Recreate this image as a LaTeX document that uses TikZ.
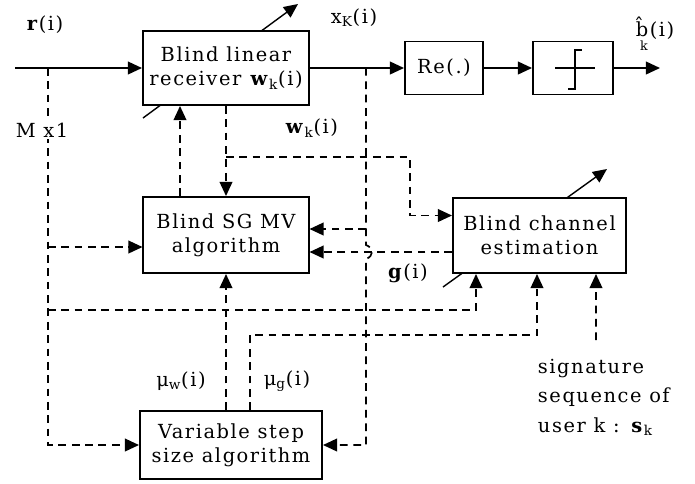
\documentclass[tikz,border=0pt]{standalone}
\usepackage{fontspec}
\setmainfont{DejaVu Serif}[LetterSpace=8]
\usetikzlibrary{arrows.meta,calc}

\begin{document}
\begin{tikzpicture}[x=0.025cm, y=-0.025cm,
    font=\fontsize{13.8}{17}\selectfont,
    blk/.style={rectangle, draw, line width=1.4pt, fill=white, align=center, inner sep=1pt},
    arrow/.style={-{Triangle[length=10pt,width=9pt]}, line width=1.3pt},
    dline/.style={dash pattern=on 5.5pt off 4pt, line width=1.2pt},
    darrow/.style={dline, -{Triangle[length=10pt,width=9pt]}}
  ]
    \useasboundingbox (0,0) rectangle (695,483);
    % adaptation arrows (behind the boxes)
    \draw[arrow, line width=1pt] (143,118) -- (298,4);
    \draw[arrow, line width=1pt] (443,287) -- (607,169);

    \node[blk, minimum width=4.15cm, minimum height=1.85cm] (rx) at (226,68) {Blind linear\\receiver \textbf{w}\textsubscript{k}(i)};
    \node[blk, minimum width=1.95cm, minimum height=1.325cm] (re) at (444,68) {Re(.)};
    \node[blk, minimum width=2cm, minimum height=1.325cm] (dec) at (573,68) {};
    \node[blk, minimum width=4.125cm, minimum height=1.9cm] (sg) at (226,235) {Blind SG MV\\algorithm};
    \node[blk, minimum width=4.325cm, minimum height=1.875cm] (ce) at (539.5,235.5) {Blind channel\\estimation};
    \node[blk, minimum width=4.55cm, minimum height=1.7cm] (vs) at (231,445) {Variable step\\size algorithm};

    % hard decision symbol
    \draw[line width=1.2pt] ($(dec.center)+(-18,0)$) -- ($(dec.center)+(22,0)$);
    \draw[line width=1.2pt] ($(dec.center)+(-5,21)$) -- ++(7,0) -- ++(0,-39) -- ++(7,0);

    \coordinate (in) at (15,68);
    \coordinate (out) at (660,68);
    \coordinate (r1) at (48,68);
    \coordinate (x1) at (366,68);
    \coordinate (wk) at (226,157);
    \coordinate (mbus) at (48,310);
    \coordinate (mg) at (250,335);
    \coordinate (sig) at (596,340);
    \coordinate (hop) at (366,252);
    \coordinate (sgr1) at ($(sg.east)+(0,-6)$);
    \coordinate (sgr2) at ($(sg.east)+(0,17)$);

    \foreach \a/\b in {in/rx, rx/re, re/dec, dec/out}
      \draw[arrow] (\a) -- (\b);

    % dashed signal paths
    \draw[darrow] (r1) |- (vs.west);
    \draw[darrow] ($(r1 |- sg.west)+(0,12)$) -- ($(sg.west)+(0,12)$);
    \draw[darrow] (mbus) -| ($(ce.south west)+(24,0)$);
    \draw[darrow] (rx.south) -- (sg.north);
    \draw[darrow] ($(sg.north)+(-46,0)$) -- ($(rx.south)+(-46,0)$);
    \draw[darrow] (wk) -| ($(ce.west)+(-42,-20)$) -- ($(ce.west)+(0,-20)$);
    \draw[darrow] (x1) -- ($(hop)+(0,-7)$) .. controls ($(hop)+(8,-4)$) and ($(hop)+(8,4)$) .. ($(hop)+(0,7)$) |- (vs.east);
    \draw[darrow] (x1 |- sgr1) -- (sgr1);
    \draw[darrow] (ce.west |- sgr2) -- (sgr2);
    \draw[darrow] (vs.north -| sg.south) -- (sg.south);
    \draw[darrow] ($(vs.north)+(19,0)$) -- (mg) -| ($(ce.south)+(-2.5,0)$);
    \draw[darrow] (sig) -- ($(ce.south)+(56.5,0)$);

    % labels
    \node (rlbl) at (45,25) {\textbf{r}(i)};
    \node[fill=white, inner sep=1pt] (mlbl) at (42,130) {M x1};
    \node (xlbl) at (354,18) {x\textsubscript{K}(i)};
    \node (wlbl) at (312,128) {\textbf{w}\textsubscript{k}(i)};
    \node (glbl) at (408,273) {\textbf{g}(i)};
    \node (mwlbl) at (181,381) {μ\textsubscript{w}(i)};
    \node (mglbl) at (287,381) {μ\textsubscript{g}(i)};
    \node[align=left] (blbl) at (655,34) {\^{b}(i)\\[-7pt]\hspace*{3pt}{\small k}};
    \node[align=left, anchor=north west, font=\fontsize{13.8}{21}\selectfont] (sigtxt) at (533,354) {signature\\sequence of\\user k : \textbf{s}\textsubscript{k}};
  \end{tikzpicture}
\end{document}
